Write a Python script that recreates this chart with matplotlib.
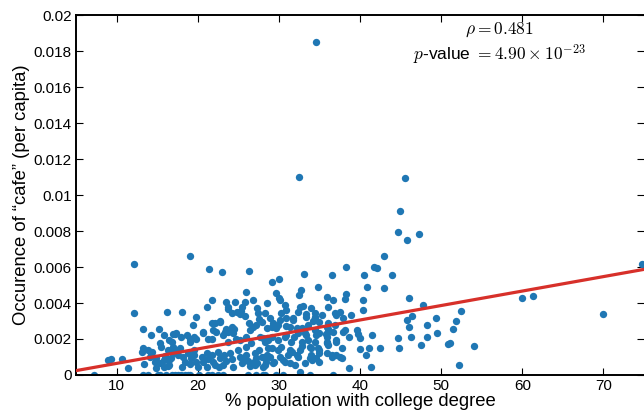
# Cafe mentions vs college education, scatter with linear fit
import numpy
import matplotlib
matplotlib.use('Agg')
import matplotlib.pyplot

# % population with college degree (x) and occurrence of "cafe" per capita (y)
pct_college = [
    34.6, 32.5, 45.5, 44.9, 44.7, 45.8, 47.3,
    43.0, 41.7, 42.1, 44.0, 42.9, 46.0, 47.8, 52.5,
    45.8, 46.4, 49.4, 51.8, 46.0, 48.2, 51.4,
    49.5, 44.7, 46.3, 48.2, 42.5, 44.8, 47.5,
    50.8, 51.1, 54.0, 52.2, 60.0, 61.3, 69.9, 74.8,
    40.5, 40.9, 40.4, 40.4,
    33.1, 38.3, 36.6, 29.2, 30.0, 34.8, 29.7, 30.0, 32.7, 32.5, 35.9, 38.3, 38.1, 36.7, 28.6,
    19.1, 21.4, 23.0, 26.3, 26.0, 21.8, 24.6, 25.8, 26.8, 12.2,
    12.2, 16.2, 13.2, 15.2, 14.2, 15.8, 17.0, 16.8, 16.9, 13.2, 13.1, 14.4, 14.3,
    9.0, 9.3, 10.7, 13.4, 11.4, 14.7, 15.4, 15.9, 7.2, 13.9, 13.3, 14.9, 15.9, 16.5,
    16.1, 16.8, 15.5, 16.3,
    18.1, 19.8, 21.1, 23.5, 23.7, 25.3, 25.5, 27.3, 17.2, 17.3, 17.9, 18.7, 19.0,
    19.4, 19.8, 20.7, 21.3, 21.8, 21.9, 22.1, 22.8, 23.5, 23.7, 23.4, 24.2, 24.5, 24.7,
    25.2, 25.8, 26.3, 26.5, 26.8, 27.2, 27.4, 27.5,
    14.1, 14.9, 16.0, 16.3, 16.5, 16.9, 16.7, 17.3, 17.6, 17.8, 18.2, 18.4, 18.1,
    18.8, 19.2, 19.1, 19.5, 19.6, 19.8, 20.0, 20.5, 20.7, 21.1, 21.3, 21.1, 21.7,
    21.9, 22.1, 22.5, 22.7, 22.6, 23.3, 23.5, 23.1, 24.0, 24.2, 24.4, 25.0, 25.2,
    25.4, 26.0, 26.2, 26.4, 27.0, 27.2, 27.0,
    15.1, 15.4, 17.2, 17.6, 18.0, 18.4, 18.8, 20.2, 21.7, 22.5, 23.1, 26.2, 27.2,
    13.9, 15.3, 16.5,
    41.5, 39.8, 40.0, 41.1, 40.7, 41.3, 38.7, 36.7, 33.8, 32.6, 30.5, 29.6, 28.0,
    35.3, 34.2, 34.4, 36.0, 36.1, 36.9, 35.8, 37.1, 35.9, 36.0, 34.8, 34.9, 36.6,
    37.5, 34.9, 33.9, 34.1, 32.9, 33.2, 33.6, 33.8, 31.7, 31.4, 30.9, 31.9, 32.8,
    31.6, 32.2, 30.5, 31.4, 32.0, 30.3, 30.1, 29.3, 29.7, 29.1, 29.9, 28.3, 27.9,
    28.5, 27.7, 28.3, 28.7, 27.5, 27.9, 28.9, 29.3, 28.3, 29.9, 26.0, 25.6, 26.9,
    34.4, 34.6, 33.4, 32.6, 32.4, 30.9, 30.7, 34.0, 34.4, 37.5, 37.9, 38.1, 38.7, 37.1,
    23.7, 24.2, 24.8, 21.7, 22.7, 19.0, 19.6, 20.7, 22.3, 23.1, 23.7, 24.3, 25.2,
    26.0, 26.6, 28.0, 28.7, 28.3, 27.3, 28.1, 19.0, 21.3,
    30.1, 33.0, 36.0, 36.9, 38.9, 33.3, 34.5, 34.9, 28.9, 30.9, 31.8,
    29.1, 29.9, 30.9, 32.2, 33.6, 35.9, 36.7, 37.9,
    32.4, 33.4, 34.9, 36.1, 39.6, 40.0, 28.6, 30.7, 31.5, 32.8,
    34.4, 35.9, 37.1, 35.9, 29.1, 30.3, 31.4, 32.6, 34.0,
    34.9, 35.9, 37.1, 37.8, 28.6, 30.1, 31.1, 32.4, 34.0, 34.6,
    28.4, 29.4, 30.7, 33.2, 36.5, 37.8, 28.3,
]
cafe_per_capita = [
    0.0185, 0.0110, 0.01093, 0.00913, 0.00796, 0.00748, 0.00785,
    0.00661, 0.0060, 0.00593, 0.00554, 0.00482, 0.00426, 0.00387, 0.00357,
    0.00306, 0.00326, 0.00317, 0.0030, 0.00265, 0.00276, 0.00256,
    0.00235, 0.00207, 0.00211, 0.00211, 0.00148, 0.0015, 0.00168,
    0.00172, 0.00178, 0.00159, 0.00056, 0.00426, 0.00437, 0.0034, 0.00618,
    0.00557, 0.00487, 0.00418, 0.00361,
    0.00563, 0.00602, 0.00554, 0.00515, 0.00532, 0.00487, 0.00457, 0.0043, 0.00472, 0.00444, 0.00433, 0.0045, 0.00424, 0.00415, 0.0040,
    0.00663, 0.00589, 0.00571, 0.00578, 0.00463, 0.00415, 0.00406, 0.00407, 0.00415, 0.00618,
    0.00343, 0.00348, 0.00256, 0.00254, 0.0022, 0.00222, 0.00228, 0.00185, 0.00157, 0.00152, 0.00129, 0.00126, 0.00117,
    0.00083, 0.00087, 0.00089, 0.00061, 0.00041, 0.00074, 0.00065, 0.00083, 0.0, 0.0, 0.0, 0.00037, 0.00046, 0.00056,
    0.0, 0.0, 0.00157, 0.00139,
    0.0035, 0.00324, 0.00376, 0.00406, 0.00367, 0.00357, 0.00379, 0.0037, 0.00226, 0.00232, 0.00209, 0.0022, 0.0020,
    0.00276, 0.0020, 0.00241, 0.00202, 0.0020, 0.0025, 0.00291, 0.0030, 0.00256, 0.00241, 0.00237, 0.00265, 0.00256, 0.00202,
    0.0034, 0.00329, 0.00287, 0.0025, 0.00268, 0.00278, 0.00343, 0.00309,
    0.00098, 0.00093, 0.00106, 0.0005, 0.00083, 0.00121, 0.00093, 0.00139, 0.00111, 0.00148, 0.00102, 0.00071, 0.00046,
    0.00121, 0.00093, 0.00061, 0.00139, 0.00111, 0.00074, 0.00046, 0.00102, 0.00074, 0.00124, 0.00087, 0.00046, 0.00111,
    0.00074, 0.00056, 0.0013, 0.00093, 0.00046, 0.00111, 0.0008, 0.00056, 0.00121, 0.00087, 0.00046, 0.00139, 0.00102,
    0.00065, 0.00111, 0.0008, 0.0005, 0.00124, 0.00093, 0.00056,
    0.0, 0.0, 0.0, 0.0, 0.0, 0.0, 0.0, 0.0, 0.0, 0.0, 0.0, 0.0, 0.0,
    0.00139, 0.00176, 0.00194,
    0.0022, 0.00226, 0.00146, 0.0015, 0.00113, 0.00046, 0.00039, 0.0, 0.0, 0.00017, 0.0, 0.0, 0.0,
    0.00333, 0.00298, 0.00315, 0.00287, 0.00254, 0.00278, 0.00228, 0.00185, 0.00185, 0.00167, 0.00148, 0.00124, 0.00111,
    0.00102, 0.00074, 0.00093, 0.00083, 0.00259, 0.00232, 0.00194, 0.00157, 0.00306, 0.00268, 0.00222, 0.00213, 0.00161,
    0.0013, 0.00111, 0.00083, 0.00065, 0.00056, 0.00343, 0.00306, 0.00287, 0.00259, 0.00213, 0.00194, 0.00343, 0.00296,
    0.00259, 0.00213, 0.00185, 0.00148, 0.00139, 0.00102, 0.00102, 0.00065, 0.00056, 0.00139, 0.00157, 0.00083, 0.00074,
    0.0025, 0.00222, 0.00324, 0.00379, 0.00352, 0.00361, 0.00389, 0.0037, 0.00343, 0.00352, 0.00315, 0.0025, 0.00213, 0.00333,
    0.00379, 0.00343, 0.00352, 0.00287, 0.00296, 0.00185, 0.00213, 0.00232, 0.00241, 0.00222, 0.00185, 0.00232, 0.00194,
    0.00213, 0.00176, 0.00204, 0.00194, 0.00102, 0.00065, 0.00046, 0.0, 0.0,
    0.00417, 0.00383, 0.00379, 0.00343, 0.00333, 0.00339, 0.00324, 0.00296, 0.00315, 0.00315, 0.00315,
    0.00268, 0.00278, 0.00272, 0.00259, 0.00278, 0.00268, 0.00241, 0.00241,
    0.00232, 0.00222, 0.00232, 0.00241, 0.0025, 0.00204, 0.00204, 0.00213, 0.00185, 0.00185,
    0.00185, 0.00176, 0.00194, 0.00213, 0.00148, 0.00157, 0.00139, 0.00139, 0.00148,
    0.00139, 0.00121, 0.00111, 0.00148, 0.00111, 0.00102, 0.00111, 0.00102, 0.00111, 0.00093,
    0.00074, 0.00074, 0.00074, 0.00065, 0.00102, 0.00093, 0.0,
]

# Linear fit as drawn in the figure
fit_slope = 8.04e-5
fit_intercept = -0.00016

rho = 0.481
p_mantissa = '4.90'
p_exponent = -23

x_ticks = [10, 20, 30, 40, 50, 60, 70]
y_ticks = [0, 0.002, 0.004, 0.006, 0.008, 0.01, 0.012, 0.014, 0.016, 0.018, 0.02]
y_ticklabels = ['0', '0.002', '0.004', '0.006', '0.008', '0.01', '0.012',
                '0.014', '0.016', '0.018', '0.02']

matplotlib.rcParams['font.family'] = ['Liberation Sans', 'DejaVu Sans']
matplotlib.rcParams['mathtext.fontset'] = 'cm'

fig = matplotlib.pyplot.figure(figsize=(6.44, 4.16), dpi=100)
ax = fig.add_axes([0.118, 0.0986, 0.882, 0.865])

ax.scatter(pct_college, cafe_per_capita, s=28, color='#1f77b4',
           linewidths=0, zorder=2, clip_on=True)

xl = numpy.array([5, 75])
ax.plot(xl, fit_slope*xl + fit_intercept, color='#d7302a', linewidth=2.3,
        zorder=3)

ax.set_xlim(5, 75)
ax.set_ylim(0, 0.02)
ax.set_xticks(x_ticks)
ax.set_yticks(y_ticks)
ax.set_yticklabels(y_ticklabels)
ax.tick_params(direction='in', top=True, right=True, length=5, width=0.8,
               labelsize=11, pad=3)
for side in ['left', 'bottom', 'top']:
    ax.spines[side].set_linewidth(1.4)
ax.spines['right'].set_visible(False)

ax.set_xlabel('% population with college degree', fontsize=13.3, labelpad=0)
ax.set_ylabel('Occurence of \u201ccafe\u201d (per capita)', fontsize=13.3,
              labelpad=3)

ax.text(0.746, 0.958, r'$\rho = %.3f$' % rho, transform=ax.transAxes,
        ha='center', va='center', fontsize=12.5)
ax.text(0.746, 0.889,
        r'$p$-value $= %s \times 10^{%d}$' % (p_mantissa, p_exponent),
        transform=ax.transAxes, ha='center', va='center', fontsize=12.5)

matplotlib.pyplot.savefig('out.png', dpi=100)
